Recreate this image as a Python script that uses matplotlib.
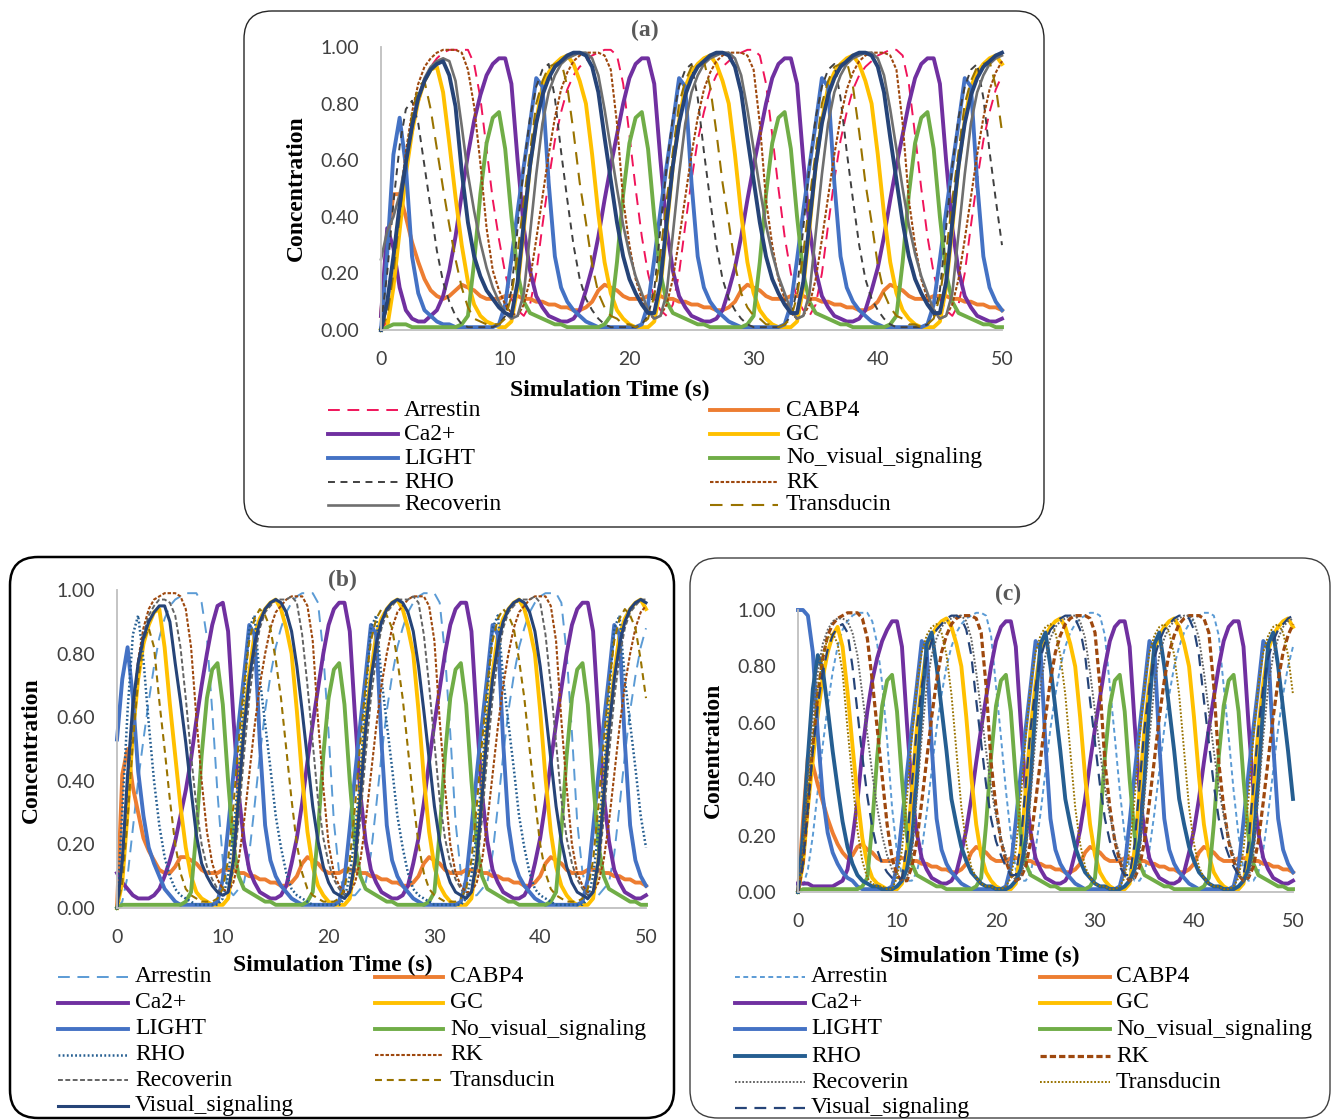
import numpy as np
import matplotlib
matplotlib.use("Agg")
import matplotlib.pyplot as plt
from matplotlib.patches import FancyBboxPatch

plt.rcParams['font.family'] = ['Liberation Serif', 'DejaVu Serif']
plt.rcParams['lines.scale_dashes'] = False

W, H = 1333, 1120

# simulation time (s), one reading every 0.5 s
time_s = np.arange(0, 50.25, 0.5)
x_ticks = [0, 10, 20, 30, 40, 50]
y_ticks = [0.0, 0.2, 0.4, 0.6, 0.8, 1.0]

# ---- concentrations, in % of 1.00 ----
# t = 16 .. 50 s, shared by the three runs
ca_tail = [7, 14, 22, 33, 46, 58, 69, 80, 89, 94, 96, 96, 87, 60, 36, 21, 12, 8, 5, 4, 3, 3, 4,
           7, 14, 22, 33, 46, 58, 69, 80, 89, 94, 96, 96, 87, 60, 36, 21, 12, 8, 5, 4, 3, 3, 4,
           7, 14, 22, 33, 46, 58, 69, 80, 89, 94, 96, 96, 87, 60, 36, 21, 12, 8, 5, 4, 3, 3, 4]
gc_tail = [88, 80, 62, 41, 24, 13, 7, 4, 2, 1, 1, 1, 3, 15, 36, 58, 74, 86, 91, 94, 96, 97, 94,
           88, 80, 62, 41, 24, 13, 7, 4, 2, 1, 1, 1, 3, 15, 36, 58, 74, 86, 91, 94, 96, 97, 94,
           88, 80, 62, 41, 24, 13, 7, 4, 2, 1, 1, 1, 3, 15, 36, 58, 74, 86, 91, 94, 96, 97, 94]
light_tail = [5, 3, 2, 1, 1, 1, 1, 1, 1, 1, 2, 9, 25, 42, 58, 73, 89, 86, 52, 26, 15, 10, 7,
              5, 3, 2, 1, 1, 1, 1, 1, 1, 1, 2, 9, 25, 42, 58, 73, 89, 86, 52, 26, 15, 10, 7,
              5, 3, 2, 1, 1, 1, 1, 1, 1, 1, 2, 9, 25, 42, 58, 73, 89, 86, 52, 26, 15, 10, 7]
novis_tail = [1, 1, 1, 1, 2, 5, 24, 48, 66, 75, 77, 64, 40, 20, 10, 6, 5, 4, 3, 2, 2, 1, 1,
              1, 1, 1, 1, 2, 5, 24, 48, 66, 75, 77, 64, 40, 20, 10, 6, 5, 4, 3, 2, 2, 1, 1,
              1, 1, 1, 1, 2, 5, 24, 48, 66, 75, 77, 64, 40, 20, 10, 6, 5, 4, 3, 2, 2, 1, 1]
cabp_tail = [7, 8, 10, 14, 16, 15, 14, 12, 11, 11, 11, 12, 12, 12, 11, 11, 10, 10, 9, 9, 8, 8, 7,
             7, 8, 10, 14, 16, 15, 14, 12, 11, 11, 11, 12, 12, 12, 11, 11, 10, 10, 9, 9, 8, 8, 7,
             7, 8, 10, 14, 16, 15, 14, 12, 11, 11, 11, 12, 12, 12, 11, 11, 10, 10, 9, 9, 8, 8, 7]
vis_tail = [98, 97, 93, 84, 68, 53, 38, 26, 18, 13, 9, 6, 6, 17, 38, 58, 73, 83, 89, 93, 95, 97, 98,
            98, 97, 93, 84, 68, 53, 38, 26, 18, 13, 9, 6, 6, 17, 38, 58, 73, 83, 89, 93, 95, 97, 98,
            98, 97, 93, 84, 68, 53, 38, 26, 18, 13, 9, 6, 6, 17, 38, 58, 73, 83, 89, 93, 95, 97, 98]
rec_tail = [98, 98, 96, 90, 78, 64, 50, 37, 27, 19, 13, 7, 4, 5, 13, 34, 55, 73, 84, 90, 94, 96, 97,
            98, 98, 96, 90, 78, 64, 50, 37, 27, 19, 13, 7, 4, 5, 13, 34, 55, 73, 84, 90, 94, 96, 97,
            98, 98, 96, 90, 78, 64, 50, 37, 27, 19, 13, 7, 4, 5, 13, 34, 55, 73, 84, 90, 94, 96, 97]
rk_tail = [97, 98, 98, 98, 97, 92, 73, 46, 30, 18, 11, 6, 4, 5, 9, 18, 32, 47, 62, 75, 85, 91, 95,
           97, 98, 98, 98, 97, 92, 73, 46, 30, 18, 11, 6, 4, 5, 9, 18, 32, 47, 62, 75, 85, 91, 95,
           97, 98, 98, 98, 97, 92, 73, 46, 30, 18, 11, 6, 4, 5, 9, 18, 32, 47, 62, 75, 85, 91, 95]

# run (a) only, t = 16 .. 50 s
rho_a_tail = [18, 11, 7, 4, 2, 1, 1, 1, 1, 1, 2, 5, 14, 36, 58, 75, 86, 92, 94, 82, 63, 46, 30,
              18, 11, 7, 4, 2, 1, 1, 1, 1, 1, 2, 5, 14, 36, 58, 75, 86, 92, 94, 82, 63, 46, 30,
              18, 11, 7, 4, 2, 1, 1, 1, 1, 1, 2, 5, 14, 36, 58, 75, 86, 92, 94, 82, 63, 46, 30]
tra_a_tail = [52, 38, 23, 13, 8, 5, 4, 2, 2, 1, 2, 4, 12, 27, 46, 63, 80, 88, 93, 94, 95, 86, 70,
              52, 38, 23, 13, 8, 5, 4, 2, 2, 1, 2, 4, 12, 27, 46, 63, 80, 88, 93, 94, 95, 86, 70,
              52, 38, 23, 13, 8, 5, 4, 2, 2, 1, 2, 4, 12, 27, 46, 63, 80, 88, 93, 94, 95, 86, 70]
arr_a_tail = [93, 95, 97, 98, 99, 99, 97, 87, 69, 50, 33, 20, 11, 7, 5, 9, 20, 37, 53, 67, 77, 85, 90,
              93, 95, 97, 98, 99, 99, 97, 87, 69, 50, 33, 20, 11, 7, 5, 9, 20, 37, 53, 67, 77, 85, 90,
              93, 95, 97, 98, 99, 99, 97, 87, 69, 50, 33, 20, 11, 7, 5, 9, 20, 37, 53, 67, 77, 85, 90]

# run (b) only, t = 16 .. 50 s
rho_b_tail = [11, 6, 4, 3, 2, 1, 1, 1, 1, 1, 1, 3, 10, 24, 42, 67, 88, 92, 72, 58, 44, 29, 19,
              11, 6, 4, 3, 2, 1, 1, 1, 1, 1, 1, 3, 10, 24, 42, 67, 88, 92, 72, 58, 44, 29, 19,
              11, 6, 4, 3, 2, 1, 1, 1, 1, 1, 1, 3, 10, 24, 42, 67, 88, 92, 72, 58, 44, 29, 19]
arr_b_tail = [93, 96, 98, 99, 99, 99, 96, 80, 55, 27, 11, 5, 4, 4, 6, 8, 17, 32, 48, 62, 73, 82, 88,
              93, 96, 98, 99, 99, 99, 96, 80, 55, 27, 11, 5, 4, 4, 6, 8, 17, 32, 48, 62, 73, 82, 88,
              93, 96, 98, 99, 99, 99, 96, 80, 55, 27, 11, 5, 4, 4, 6, 8, 17, 32, 48, 62, 73, 82, 88]
rk_b_tail = [97, 98, 98, 98, 95, 84, 59, 38, 20, 11, 7, 5, 5, 8, 15, 27, 42, 57, 70, 80, 88, 93, 95,
             97, 98, 98, 98, 95, 84, 59, 38, 20, 11, 7, 5, 5, 8, 15, 27, 42, 57, 70, 80, 88, 93, 95,
             97, 98, 98, 98, 95, 84, 59, 38, 20, 11, 7, 5, 5, 8, 15, 27, 42, 57, 70, 80, 88, 93, 95]
rec_b_tail = [97, 98, 96, 86, 70, 52, 34, 22, 14, 9, 6, 4, 5, 12, 28, 48, 66, 79, 88, 93, 95, 97, 97,
              97, 98, 96, 86, 70, 52, 34, 22, 14, 9, 6, 4, 5, 12, 28, 48, 66, 79, 88, 93, 95, 97, 97,
              97, 98, 96, 86, 70, 52, 34, 22, 14, 9, 6, 4, 5, 12, 28, 48, 66, 79, 88, 93, 95, 97, 97]
vis_b_tail = [93, 87, 76, 62, 47, 32, 21, 13, 8, 5, 4, 3, 5, 15, 35, 56, 72, 83, 90, 94, 96, 97, 96,
              93, 87, 76, 62, 47, 32, 21, 13, 8, 5, 4, 3, 5, 15, 35, 56, 72, 83, 90, 94, 96, 97, 96,
              93, 87, 76, 62, 47, 32, 21, 13, 8, 5, 4, 3, 5, 15, 35, 56, 72, 83, 90, 94, 96, 97, 96]
tra_b_tail = [50, 34, 20, 11, 6, 4, 3, 2, 2, 2, 3, 6, 15, 32, 52, 70, 84, 91, 94, 92, 88, 78, 66,
              50, 34, 20, 11, 6, 4, 3, 2, 2, 2, 3, 6, 15, 32, 52, 70, 84, 91, 94, 92, 88, 78, 66,
              50, 34, 20, 11, 6, 4, 3, 2, 2, 2, 3, 6, 15, 32, 52, 70, 84, 91, 94, 92, 88, 78, 66]

# run (c) only, t = 16 .. 50 s
rho_c_tail = [24, 16, 11, 7, 5, 3, 2, 2, 1, 1, 1, 2, 4, 8, 18, 40, 66, 88, 92, 80, 65, 50, 33,
              24, 16, 11, 7, 5, 3, 2, 2, 1, 1, 1, 2, 4, 8, 18, 40, 66, 88, 92, 80, 65, 50, 33,
              24, 16, 11, 7, 5, 3, 2, 2, 1, 1, 1, 2, 4, 8, 18, 40, 66, 88, 92, 80, 65, 50, 33]
arr_c_tail = [92, 95, 97, 98, 99, 99, 98, 91, 73, 55, 36, 20, 8, 4, 4, 7, 15, 28, 43, 58, 70, 80, 87,
              92, 95, 97, 98, 99, 99, 98, 91, 73, 55, 36, 20, 8, 4, 4, 7, 15, 28, 43, 58, 70, 80, 87,
              92, 95, 97, 98, 99, 99, 98, 91, 73, 55, 36, 20, 8, 4, 4, 7, 15, 28, 43, 58, 70, 80, 87]
tra_c_tail = [50, 30, 17, 9, 5, 3, 2, 2, 1, 1, 2, 5, 15, 33, 55, 73, 85, 91, 94, 95, 92, 84, 70,
              50, 30, 17, 9, 5, 3, 2, 2, 1, 1, 2, 5, 15, 33, 55, 73, 85, 91, 94, 95, 92, 84, 70,
              50, 30, 17, 9, 5, 3, 2, 2, 1, 1, 2, 5, 15, 33, 55, 73, 85, 91, 94, 95, 92, 84, 70]

# t = 0 .. 15.5 s, run (a)
arr_a = [0, 3, 15, 35, 55, 69, 80, 88, 93,
         96, 98, 99, 99, 99, 99, 94, 82, 64, 46, 32, 20, 11, 7, 5, 9, 20, 37, 53, 67, 77, 85, 90]
cabp_a = [5, 30, 48, 48, 40, 31, 24, 18, 14,
          12, 11, 12, 14, 16, 15, 14, 12, 11, 11, 11, 12, 12, 12, 11, 11, 10, 10, 9, 9, 8, 8, 7]
ca_a = [5, 36, 29, 15, 7, 4, 3, 3, 5,
        7, 12, 21, 33, 48, 62, 74, 83, 90, 94, 96, 96, 87, 60, 36, 21, 12, 8, 5, 4, 3, 3, 4]
gc_a = [0, 1, 15, 35, 55, 70, 81, 88, 92,
        93, 84, 66, 47, 30, 17, 9, 5, 3, 2, 1, 1, 3, 15, 36, 58, 74, 86, 91, 94, 96, 97, 94]
light_a = [0, 27, 62, 75, 58, 26, 13, 7, 5,
           3, 2, 2, 1, 1, 1, 1, 1, 1, 1, 2, 9, 25, 42, 58, 73, 89, 86, 52, 26, 15, 10, 7]
novis_a = [0, 1, 2, 2, 2, 1, 1, 1, 1,
           1, 1, 1, 1, 2, 5, 24, 48, 66, 75, 77, 64, 40, 20, 10, 6, 5, 4, 3, 2, 2, 1, 1]
rho_a = [2, 20, 45, 65, 78, 81, 73, 58, 43,
         28, 17, 10, 5, 2, 1, 1, 1, 1, 1, 2, 5, 14, 36, 58, 75, 86, 92, 94, 82, 63, 46, 30]
rk_a = [0, 8, 25, 45, 63, 77, 87, 93, 96,
        98, 99, 99, 99, 98, 92, 79, 59, 36, 21, 14, 9, 6, 5, 9, 18, 32, 47, 62, 75, 85, 91, 95]
rec_a = [25, 35, 40, 48, 60, 72, 82, 89, 93,
         95, 96, 95, 88, 72, 55, 42, 31, 22, 15, 10, 6, 4, 5, 13, 34, 55, 73, 84, 90, 94, 96, 97]
tra_a = [0, 5, 20, 40, 60, 76, 86, 88, 78,
         64, 50, 37, 25, 15, 8, 4, 3, 2, 2, 2, 4, 12, 27, 46, 63, 80, 88, 93, 94, 95, 86, 70]
vis_a = [0, 10, 26, 44, 59, 72, 82, 88, 92,
         94, 95, 90, 79, 56, 38, 26, 19, 14, 11, 8, 6, 5, 17, 38, 58, 73, 83, 89, 93, 95, 97, 98]

# t = 0 .. 15.5 s, run (b)
arr_b = [0, 2, 10, 25, 40, 53, 65, 76, 85,
         91, 95, 97, 98, 99, 99, 99, 96, 85, 62, 36, 15, 6, 4, 6, 8, 17, 32, 48, 62, 73, 82, 88]
cabp_b = [0, 42, 50, 38, 30, 22, 18, 15, 12,
          11, 11, 13, 16, 16, 15, 14, 12, 11, 11, 11, 12, 12, 12, 11, 11, 10, 10, 9, 9, 8, 8, 7]
ca_b = [11, 8, 6, 4, 3, 3, 3, 4, 6,
        10, 15, 21, 29, 37, 47, 59, 70, 80, 89, 95, 96, 87, 60, 36, 21, 12, 8, 5, 4, 3, 3, 4]
gc_b = [0, 8, 30, 55, 72, 83, 89, 93, 94,
        82, 64, 48, 32, 19, 10, 5, 3, 2, 1, 1, 1, 3, 15, 36, 58, 74, 86, 91, 94, 96, 97, 94]
light_b = [53, 72, 82, 66, 43, 29, 19, 14, 10,
           6, 4, 2, 1, 1, 1, 1, 1, 1, 1, 2, 9, 25, 42, 58, 73, 89, 86, 52, 26, 15, 10, 7]
novis_b = [0, 1, 1, 1, 1, 1, 1, 1, 1,
           1, 1, 1, 1, 2, 5, 24, 48, 66, 75, 77, 64, 40, 20, 10, 6, 5, 4, 3, 2, 2, 1, 1]
rho_b = [0, 30, 62, 86, 92, 78, 58, 40, 26,
         16, 10, 6, 4, 3, 2, 1, 1, 1, 1, 1, 3, 10, 24, 42, 67, 88, 92, 72, 58, 44, 29, 19]
rk_b = [0, 15, 40, 62, 78, 88, 94, 97, 98,
        99, 99, 99, 98, 94, 82, 60, 40, 24, 14, 9, 6, 5, 8, 15, 27, 42, 57, 70, 80, 88, 93, 95]
rec_b = [0, 14, 38, 60, 76, 86, 92, 95, 97,
         97, 96, 92, 82, 66, 48, 32, 20, 13, 9, 6, 4, 5, 12, 28, 48, 66, 79, 88, 93, 95, 97, 97]
tra_b = [0, 8, 28, 52, 72, 84, 88, 82, 65,
         50, 34, 20, 11, 6, 4, 3, 2, 2, 2, 3, 6, 15, 32, 52, 70, 84, 91, 94, 92, 88, 78, 66]
vis_b = [0, 15, 42, 64, 77, 85, 90, 93, 95,
         95, 90, 77, 65, 52, 37, 23, 14, 10, 7, 5, 4, 5, 15, 35, 56, 72, 83, 90, 94, 96, 97, 96]

# t = 0 .. 15.5 s, run (c)
arr_c = [0, 2, 8, 20, 36, 52, 66, 78, 87,
         93, 96, 98, 99, 99, 99, 96, 88, 74, 54, 30, 14, 6, 4, 4, 7, 15, 28, 43, 58, 70, 80, 87]
cabp_c = [0, 25, 48, 45, 38, 32, 26, 21, 17,
          14, 12, 13, 16, 17, 15, 14, 12, 11, 11, 11, 12, 12, 12, 11, 11, 10, 10, 9, 9, 8, 8, 7]
ca_c = [3, 3, 3, 2, 2, 2, 2, 2, 3,
        4, 8, 19, 32, 50, 64, 75, 83, 89, 93, 96, 96, 87, 60, 36, 21, 12, 8, 5, 4, 3, 3, 4]
gc_c = [0, 10, 30, 47, 63, 76, 85, 91, 94,
        87, 71, 52, 34, 19, 10, 5, 3, 2, 1, 1, 1, 3, 15, 36, 58, 74, 86, 91, 94, 96, 97, 94]
light_c = [100, 100, 98, 85, 56, 34, 21, 14, 10,
           7, 5, 4, 2, 1, 1, 1, 1, 1, 1, 2, 9, 25, 42, 58, 73, 89, 86, 52, 26, 15, 10, 7]
novis_c = [0, 1, 1, 1, 1, 1, 1, 1, 1,
           1, 1, 1, 1, 2, 5, 24, 48, 66, 75, 77, 64, 40, 20, 10, 6, 5, 4, 3, 2, 2, 1, 1]
rho_c = [0, 20, 48, 72, 84, 79, 65, 50, 37,
         25, 16, 10, 6, 4, 3, 2, 2, 1, 1, 1, 2, 4, 8, 18, 40, 66, 88, 92, 80, 65, 50, 33]
rk_c = [0, 10, 30, 52, 70, 83, 91, 95, 97,
        98, 99, 99, 99, 97, 90, 75, 58, 41, 24, 12, 6, 4, 4, 9, 18, 32, 47, 62, 75, 85, 91, 95]
rec_c = [0, 15, 40, 62, 78, 88, 93, 96, 97,
         97, 96, 92, 84, 70, 56, 42, 30, 20, 13, 8, 5, 4, 5, 13, 34, 55, 73, 84, 90, 94, 96, 97]
tra_c = [0, 12, 33, 55, 72, 84, 90, 92, 88,
         78, 58, 40, 22, 11, 5, 3, 2, 2, 1, 1, 5, 15, 33, 55, 73, 85, 91, 94, 95, 92, 84, 70]
vis_c = [0, 10, 30, 50, 66, 78, 86, 91, 94,
         95, 92, 80, 64, 48, 34, 23, 15, 10, 7, 5, 4, 5, 17, 38, 58, 73, 83, 89, 93, 95, 97, 98]

labels = ['Arrestin', 'CABP4', 'Ca2+', 'GC', 'LIGHT', 'No_visual_signaling',
          'RHO', 'RK', 'Recoverin', 'Transducin', 'Visual_signaling']

# line styles (Excel look)
THICK = 2.8
st_cabp = dict(color='#ED7D31', lw=THICK)
st_ca = dict(color='#7030A0', lw=THICK)
st_gc = dict(color='#FFC000', lw=THICK)
st_light = dict(color='#4472C4', lw=THICK)
st_novis = dict(color='#70AD47', lw=THICK)

styles_a = [dict(color='#F0145A', lw=1.4, ls=(0, (8.5, 5.5))), st_cabp, st_ca, st_gc, st_light, st_novis,
            dict(color='#404040', lw=1.4, ls=(0, (5, 4))),
            dict(color='#9E480E', lw=1.5, ls=(0, (2.5, 1.3))),
            dict(color='#6F6F6F', lw=1.9),
            dict(color='#997300', lw=1.5, ls=(0, (9, 6))),
            dict(color='#264478', lw=THICK)]
styles_b = [dict(color='#5B9BD5', lw=1.4, ls=(0, (8.5, 5.5))), st_cabp, st_ca, st_gc, st_light, st_novis,
            dict(color='#255E91', lw=1.8, ls=(0, (1.3, 1.7))),
            dict(color='#9E480E', lw=1.5, ls=(0, (2.5, 1.3))),
            dict(color='#636363', lw=1.4, ls=(0, (3.5, 1.8))),
            dict(color='#997300', lw=1.5, ls=(0, (5, 3.5))),
            dict(color='#264478', lw=2.2)]
styles_c = [dict(color='#5B9BD5', lw=1.4, ls=(0, (3.5, 2.5))), st_cabp, st_ca, st_gc, st_light, st_novis,
            dict(color='#255E91', lw=THICK),
            dict(color='#9E480E', lw=2.3, ls=(0, (4.5, 2.2))),
            dict(color='#636363', lw=1.4, ls=(0, (1.3, 1.3))),
            dict(color='#997300', lw=1.4, ls=(0, (1.3, 1.3))),
            dict(color='#264478', lw=1.6, ls=(0, (8.5, 5.5)))]

run_a = [arr_a + arr_a_tail, cabp_a + cabp_tail, ca_a + ca_tail, gc_a + gc_tail, light_a + light_tail,
         novis_a + novis_tail, rho_a + rho_a_tail, rk_a + rk_tail, rec_a + rec_tail, tra_a + tra_a_tail,
         vis_a + vis_tail]
run_b = [arr_b + arr_b_tail, cabp_b + cabp_tail, ca_b + ca_tail, gc_b + gc_tail, light_b + light_tail,
         novis_b + novis_tail, rho_b + rho_b_tail, rk_b + rk_b_tail, rec_b + rec_b_tail, tra_b + tra_b_tail,
         vis_b + vis_b_tail]
run_c = [arr_c + arr_c_tail, cabp_c + cabp_tail, ca_c + ca_tail, gc_c + gc_tail, light_c + light_tail,
         novis_c + novis_tail, rho_c + rho_c_tail, rk_c + rk_tail, rec_c + rec_tail, tra_c + tra_c_tail,
         vis_c + vis_tail]


def px_rect(l, t, r, b):
    return [l / W, 1 - b / H, (r - l) / W, (b - t) / H]


fig = plt.figure(figsize=(W / 100, H / 100), dpi=100)
bg = fig.add_axes([0, 0, 1, 1], zorder=0)
bg.set_xlim(0, W)
bg.set_ylim(H, 0)
bg.axis('off')

# rounded frames
bg.add_patch(FancyBboxPatch((244, 11), 800, 516, boxstyle='round,pad=0,rounding_size=28',
                            fc='white', ec='#262626', lw=1.0))
bg.add_patch(FancyBboxPatch((10, 557), 664, 561, boxstyle='round,pad=0,rounding_size=28',
                            fc='white', ec='black', lw=1.8))
bg.add_patch(FancyBboxPatch((690, 558), 640, 560, boxstyle='round,pad=0,rounding_size=28',
                            fc='white', ec='#404040', lw=1.0))


def draw_run(rect, run, styles):
    ax = fig.add_axes(px_rect(*rect), zorder=1)
    ax.set_facecolor('none')
    for vals, st in zip(run, styles):
        ax.plot(time_s[:len(vals)], np.asarray(vals) / 100, clip_on=False,
                solid_joinstyle='round', **st)
    ax.set_xlim(0, 50)
    ax.set_ylim(0, 1)
    ax.set_xticks(x_ticks)
    ax.set_yticks(y_ticks)
    ax.yaxis.set_major_formatter('{x:.2f}')
    ax.tick_params(length=0, labelsize=14, labelcolor='#404040', labelfontfamily='Lato')
    ax.tick_params(axis='y', pad=16)
    ax.tick_params(axis='x', pad=15)
    for s in ['top', 'right']:
        ax.spines[s].set_visible(False)
    for s in ['left', 'bottom']:
        ax.spines[s].set_color('#BFBFBF')
        ax.spines[s].set_linewidth(1.3)
    return ax


draw_run((381, 47, 1002, 330), run_a, styles_a)
draw_run((117, 590, 646, 908), run_b, styles_b)
draw_run((798, 610, 1293, 892), run_c, styles_c)

# titles and axis names
for txt, x, y in [('(a)', 645, 30), ('(b)', 342, 580), ('(c)', 1008, 594)]:
    bg.text(x, y, txt, fontsize=17, fontweight='bold', color='#595959', ha='center', va='center')
for x, y in [(610, 390), (333, 965), (980, 956)]:
    bg.text(x, y, 'Simulation Time (s)', fontsize=17, fontweight='bold', ha='center', va='center')
for txt, x, y in [('Concentration', 296, 188), ('Concentration', 31, 750), ('Conentration', 713, 750)]:
    bg.text(x, y, txt, fontsize=17, fontweight='bold', rotation=90, ha='center', va='center')


def draw_legend(rows, cols, styles, n):
    for i in range(n):
        r, c = divmod(i, 2)
        x0, x1, xt = cols[c]
        y = rows[r]
        bg.plot([x0, x1], [y, y], **styles[i])
        bg.text(xt, y, labels[i], fontsize=17, ha='left', va='center')


draw_legend([410, 434, 458, 482, 505], [(328, 398, 404), (710, 778, 786)], styles_a, 10)
draw_legend([977, 1003, 1029, 1055, 1080, 1106], [(58, 128, 135), (375, 443, 450)], styles_b, 11)
draw_legend([977, 1003, 1029, 1056, 1082, 1108], [(735, 805, 811), (1040, 1110, 1116)], styles_c, 11)

fig.savefig('out.png', dpi=100)
